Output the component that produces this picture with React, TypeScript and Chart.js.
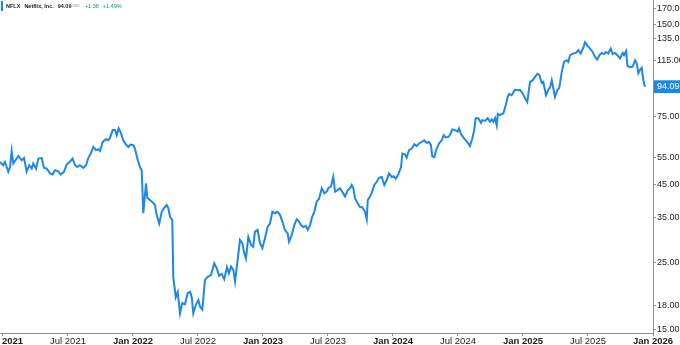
import React, { useEffect, useRef } from "react";
import { Chart, registerables } from "chart.js";

Chart.register(...registerables);

// Dates as decimal years, closing prices (USD, split-adjusted)
const DATES = [
  2020.977, 2021.002, 2021.015, 2021.041, 2021.054, 2021.067, 2021.079, 2021.105, 2021.118, 2021.144,
  2021.162, 2021.182, 2021.202, 2021.221, 2021.233, 2021.254, 2021.272, 2021.298, 2021.315, 2021.336,
  2021.362, 2021.382, 2021.400, 2021.425, 2021.444, 2021.469, 2021.490, 2021.515, 2021.536, 2021.554,
  2021.572, 2021.592, 2021.618, 2021.639, 2021.656, 2021.675, 2021.695, 2021.715, 2021.733, 2021.746,
  2021.767, 2021.792, 2021.810, 2021.823, 2021.844, 2021.862, 2021.875, 2021.890, 2021.905, 2021.925,
  2021.946, 2021.964, 2021.982, 2022.002, 2022.015, 2022.033, 2022.054, 2022.067, 2022.075, 2022.079,
  2022.092, 2022.100, 2022.110, 2022.131, 2022.152, 2022.169, 2022.182, 2022.202, 2022.221, 2022.239,
  2022.259, 2022.272, 2022.285, 2022.302, 2022.310, 2022.329, 2022.344, 2022.362, 2022.379, 2022.400,
  2022.421, 2022.439, 2022.452, 2022.464, 2022.483, 2022.503, 2022.515, 2022.533, 2022.554, 2022.575,
  2022.600, 2022.625, 2022.644, 2022.662, 2022.682, 2022.702, 2022.723, 2022.738, 2022.754, 2022.772,
  2022.785, 2022.805, 2022.823, 2022.841, 2022.856, 2022.869, 2022.887, 2022.908, 2022.925, 2022.938,
  2022.959, 2022.977, 2022.995, 2023.015, 2023.036, 2023.054, 2023.072, 2023.092, 2023.113, 2023.131,
  2023.149, 2023.169, 2023.190, 2023.200, 2023.221, 2023.241, 2023.259, 2023.277, 2023.292, 2023.310,
  2023.329, 2023.344, 2023.362, 2023.379, 2023.395, 2023.413, 2023.431, 2023.452, 2023.472, 2023.490,
  2023.502, 2023.523, 2023.541, 2023.554, 2023.575, 2023.592, 2023.610, 2023.631, 2023.652, 2023.669,
  2023.682, 2023.695, 2023.708, 2023.729, 2023.746, 2023.764, 2023.785, 2023.798, 2023.806, 2023.823,
  2023.836, 2023.856, 2023.875, 2023.892, 2023.913, 2023.933, 2023.952, 2023.969, 2023.990, 2024.005,
  2024.021, 2024.041, 2024.062, 2024.072, 2024.092, 2024.105, 2024.123, 2024.144, 2024.164, 2024.182,
  2024.200, 2024.221, 2024.241, 2024.259, 2024.277, 2024.292, 2024.302, 2024.318, 2024.336, 2024.354,
  2024.375, 2024.390, 2024.406, 2024.426, 2024.438, 2024.456, 2024.477, 2024.498, 2024.508, 2024.523,
  2024.541, 2024.559, 2024.579, 2024.592, 2024.610, 2024.625, 2024.636, 2024.656, 2024.677, 2024.687,
  2024.708, 2024.729, 2024.746, 2024.759, 2024.772, 2024.785, 2024.798, 2024.806, 2024.823, 2024.849,
  2024.867, 2024.883, 2024.892, 2024.913, 2024.938, 2024.964, 2024.977, 2024.998, 2025.015, 2025.033,
  2025.054, 2025.075, 2025.092, 2025.110, 2025.126, 2025.144, 2025.156, 2025.177, 2025.195, 2025.208,
  2025.221, 2025.233, 2025.246, 2025.264, 2025.279, 2025.298, 2025.315, 2025.336, 2025.348, 2025.362,
  2025.387, 2025.408, 2025.426, 2025.444, 2025.464, 2025.477, 2025.495, 2025.515, 2025.536, 2025.554,
  2025.571, 2025.587, 2025.605, 2025.623, 2025.638, 2025.656, 2025.675, 2025.690, 2025.708, 2025.726,
  2025.746, 2025.767, 2025.777, 2025.793, 2025.803, 2025.823, 2025.844, 2025.862, 2025.875, 2025.887,
  2025.900, 2025.913, 2025.926, 2025.938,
];

const PRICES = [
  53.3, 52.0, 53.3, 49.5, 51.3, 57.9, 52.7, 54.7, 55.8, 54.0,
  54.9, 49.5, 52.0, 50.7, 52.7, 50.7, 54.7, 54.9, 51.0, 50.7,
  48.9, 48.5, 50.1, 49.7, 48.5, 49.5, 52.3, 53.5, 54.7, 52.0,
  51.3, 52.0, 51.0, 52.0, 54.9, 56.8, 59.7, 58.3, 58.7, 57.9,
  62.0, 63.3, 62.8, 63.9, 67.8, 67.8, 65.3, 68.7, 66.7, 62.8,
  60.8, 59.7, 60.8, 60.5, 59.0, 54.7, 51.3, 50.1, 40.5, 36.2,
  41.5, 45.4, 40.7, 40.0, 39.3, 38.5, 35.7, 33.5, 36.6, 37.6,
  38.5, 37.6, 35.2, 34.4, 22.4, 19.2, 20.0, 17.0, 18.4, 18.2,
  19.8, 20.0, 19.2, 17.0, 18.1, 18.8, 17.9, 17.5, 21.9, 22.4,
  22.7, 24.8, 23.9, 22.6, 22.9, 22.0, 24.1, 23.0, 24.2, 23.6,
  21.6, 25.4, 29.6, 28.9, 26.8, 25.7, 30.3, 28.5, 28.1, 31.5,
  31.9, 28.9, 27.8, 30.0, 32.7, 33.5, 36.6, 36.2, 36.6, 35.7,
  34.0, 31.9, 31.1, 29.2, 30.7, 33.1, 34.6, 34.0, 33.1, 32.6,
  32.9, 31.9, 33.1, 35.3, 36.6, 39.5, 40.4, 43.7, 42.1, 42.6,
  43.7, 44.3, 47.7, 42.6, 43.1, 43.7, 42.6, 41.1, 43.1, 43.7,
  44.8, 43.7, 40.5, 39.0, 37.9, 37.9, 36.6, 34.6, 40.0, 41.1,
  42.1, 44.8, 45.9, 47.3, 47.6, 44.8, 46.5, 48.9, 47.6, 47.9,
  47.0, 48.6, 51.3, 56.8, 56.5, 55.1, 58.3, 59.0, 60.9, 60.1,
  61.3, 62.0, 62.8, 61.6, 62.0, 60.5, 55.6, 55.3, 59.0, 61.3,
  62.8, 65.3, 64.2, 64.4, 65.3, 68.1, 67.8, 67.0, 68.7, 65.8,
  64.2, 62.8, 61.3, 60.1, 63.6, 67.8, 74.2, 74.2, 71.6, 73.1,
  72.7, 74.2, 72.2, 73.5, 72.2, 74.2, 70.2, 76.6, 75.9, 77.0,
  81.8, 87.3, 89.0, 88.2, 91.9, 91.6, 91.9, 89.4, 86.4, 83.8,
  97.5, 98.8, 101.1, 103.7, 102.6, 96.8, 97.5, 88.2, 91.9, 93.6,
  98.8, 93.2, 87.1, 91.6, 93.2, 104.9, 113.5, 114.9, 113.5, 119.3,
  120.9, 121.4, 123.9, 120.9, 126.3, 131.7, 128.6, 125.5, 122.3, 117.8,
  115.6, 119.3, 121.4, 120.3, 122.3, 120.9, 125.5, 120.3, 121.4, 119.3,
  116.5, 121.4, 119.3, 123.1, 110.1, 109.0, 109.5, 114.9, 112.0, 104.1,
  106.8, 108.4, 98.8, 94.09,
];

const Y_TICKS = [15, 18, 25, 35, 45, 55, 75, 115, 135, 150, 170];
const LAST_PRICE = 94.09;
const X_TICKS = [2021, 2021.5, 2022, 2022.5, 2023, 2023.5, 2024, 2024.5, 2025, 2025.5, 2026];
const X_LABELS = [
  "Jan 2021", "Jul 2021", "Jan 2022", "Jul 2022", "Jan 2023", "Jul 2023",
  "Jan 2024", "Jul 2024", "Jan 2025", "Jul 2025", "Jan 2026",
];

const BLUE = "#1e88e5";
const AXIS = "#8c8c8c";
const TEXT = "#1c1c1c";
const FONT = "'Liberation Sans', Arial, sans-serif";

export default function App() {
  const ref = useRef<HTMLCanvasElement | null>(null);

  useEffect(() => {
    document.body.style.margin = "0";
    const canvas = ref.current;
    if (!canvas) return;
    const chart = new Chart(canvas, {
      type: "line",
      data: {
        datasets: [
          {
            data: DATES.map((d, i) => ({ x: d, y: PRICES[i] })),
            borderColor: BLUE,
            borderWidth: 2,
            pointRadius: 0,
            tension: 0,
            fill: false,
          },
        ],
      },
      options: {
        animation: false,
        responsive: false,
        maintainAspectRatio: false,
        layout: { padding: 0 },
        plugins: { legend: { display: false }, tooltip: { enabled: false } },
        scales: {
          x: {
            type: "linear",
            min: 2020.977,
            max: 2026,
            afterBuildTicks: (s: any) => {
              s.ticks = X_TICKS.map((v) => ({ value: v }));
            },
            afterFit: (s: any) => {
              s.height = 12;
              s.paddingLeft = 0;
              s.paddingRight = 0;
            },
            grid: { drawOnChartArea: false, drawTicks: true, tickLength: 3, color: AXIS },
            border: { display: true, color: AXIS, width: 1 },
            ticks: {
              autoSkip: false,
              maxRotation: 0,
              minRotation: 0,
              padding: 0,
              color: TEXT,
              font: (ctx: any) => {
                const v = ctx.tick ? ctx.tick.value : 0;
                const isJan = Math.abs(v - Math.round(v)) < 1e-6;
                return { family: FONT, size: 9.5, weight: isJan ? "bold" : "normal" };
              },
              callback: (v: any) => {
                const i = X_TICKS.findIndex((t) => Math.abs(t - Number(v)) < 1e-6);
                return i >= 0 ? X_LABELS[i] : "";
              },
            },
          },
          y: {
            type: "logarithmic",
            position: "right",
            min: 14.66,
            max: 181,
            afterBuildTicks: (s: any) => {
              s.ticks = [...Y_TICKS, LAST_PRICE]
                .sort((a, b) => a - b)
                .map((v) => ({ value: v }));
            },
            afterFit: (s: any) => {
              s.width = 27;
              s.paddingTop = 0;
              s.paddingBottom = 0;
            },
            grid: {
              drawOnChartArea: false,
              drawTicks: true,
              tickLength: 3,
              color: (ctx: any) =>
                ctx.tick && ctx.tick.value === LAST_PRICE ? "rgba(0,0,0,0)" : AXIS,
            },
            border: { display: true, color: AXIS, width: 1 },
            ticks: {
              autoSkip: false,
              padding: 1,
              font: { family: FONT, size: 9 },
              color: (ctx: any) =>
                ctx.tick && ctx.tick.value === LAST_PRICE ? "#ffffff" : TEXT,
              showLabelBackdrop: (ctx: any) => !!(ctx.tick && ctx.tick.value === LAST_PRICE),
              backdropColor: BLUE,
              backdropPadding: { top: 1, bottom: 1, left: 3, right: 8 },
              callback: (v: any) => Number(v).toFixed(2),
            },
          },
        },
      },
    } as any);
    return () => chart.destroy();
  }, []);

  return (
    <div style={{ position: "fixed", left: 0, top: 0, width: 680, height: 345, background: "#fff" }}>
      <canvas ref={ref} width={680} height={345} style={{ display: "block", width: 680, height: 345 }} />
      <div
        style={{
          position: "absolute",
          left: 1,
          top: 1,
          height: 10,
          display: "flex",
          alignItems: "center",
          fontFamily: FONT,
          fontSize: 5.5,
          color: TEXT,
          whiteSpace: "nowrap",
        }}
      >
        <span style={{ width: 2, height: 10, background: BLUE, marginRight: 3, display: "inline-block" }} />
        <span style={{ fontWeight: "bold", marginRight: 4 }}>NFLX</span>
        <span style={{ fontWeight: "bold", marginRight: 4 }}>Netflix, Inc.</span>
        <span style={{ fontWeight: "bold", marginRight: 1 }}>94.09</span>
        <span style={{ fontSize: 3.5, color: "#888", marginRight: 5 }}>USD</span>
        <span style={{ color: "#089981", marginRight: 4 }}>+1.38</span>
        <span style={{ color: "#089981" }}>+1.49%</span>
      </div>
    </div>
  );
}
